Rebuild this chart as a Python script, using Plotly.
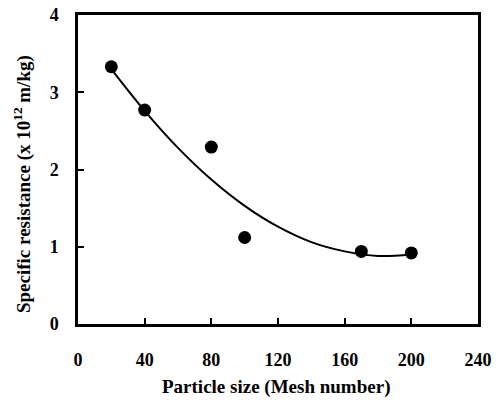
import plotly.graph_objects as go

# Measured data points
mesh = [20, 40, 80, 100, 170, 200]
resistance = [3.33, 2.77, 2.29, 1.12, 0.94, 0.92]

# Trend curve
curve_x = [20, 40, 60, 80, 100, 120, 140, 160, 180, 200]
curve_y = [3.30, 2.76, 2.28, 1.87, 1.53, 1.26, 1.06, 0.94, 0.88, 0.90]

x_ticks = [0, 40, 80, 120, 160, 200, 240]
y_ticks = [0, 1, 2, 3, 4]

font_family = "Liberation Serif"

fig = go.Figure()
fig.add_trace(go.Scatter(
    x=curve_x, y=curve_y, mode="lines",
    line=dict(color="black", width=2, shape="spline"),
    showlegend=False, hoverinfo="skip"))
fig.add_trace(go.Scatter(
    x=mesh, y=resistance, mode="markers",
    marker=dict(color="black", size=13),
    showlegend=False))

axis_common = dict(
    showgrid=False, zeroline=False, showline=True, linecolor="black",
    linewidth=2.5, mirror=True, ticks="inside", ticklen=6, tickwidth=2,
    tickcolor="black", automargin=False,
    tickfont=dict(family=font_family, size=18, color="black", weight="bold"),
)

title_font = dict(family=font_family, size=19, color="black", weight="bold")

fig.update_layout(
    width=500, height=403,
    margin=dict(l=78, r=22, t=15, b=79),
    paper_bgcolor="white", plot_bgcolor="white",
    xaxis=dict(range=[0, 240], tickvals=x_ticks, ticktext=[str(v) for v in x_ticks],
               ticklabelstandoff=18, **axis_common),
    yaxis=dict(range=[0, 4], tickvals=y_ticks, ticktext=[str(v) for v in y_ticks],
               ticklabelstandoff=13, **axis_common),
    annotations=[
        dict(text="Specific resistance (x 10<sup>12</sup> m/kg)",
             xref="paper", yref="paper", x=-0.14, y=0.453,
             xanchor="center", yanchor="middle",
             textangle=-90, showarrow=False, font=title_font),
        dict(text="Particle size (Mesh number)",
             xref="paper", yref="paper", x=0.495, y=-0.204,
             xanchor="center", yanchor="middle",
             showarrow=False, font=title_font),
    ],
)

fig.write_html("out.html")
